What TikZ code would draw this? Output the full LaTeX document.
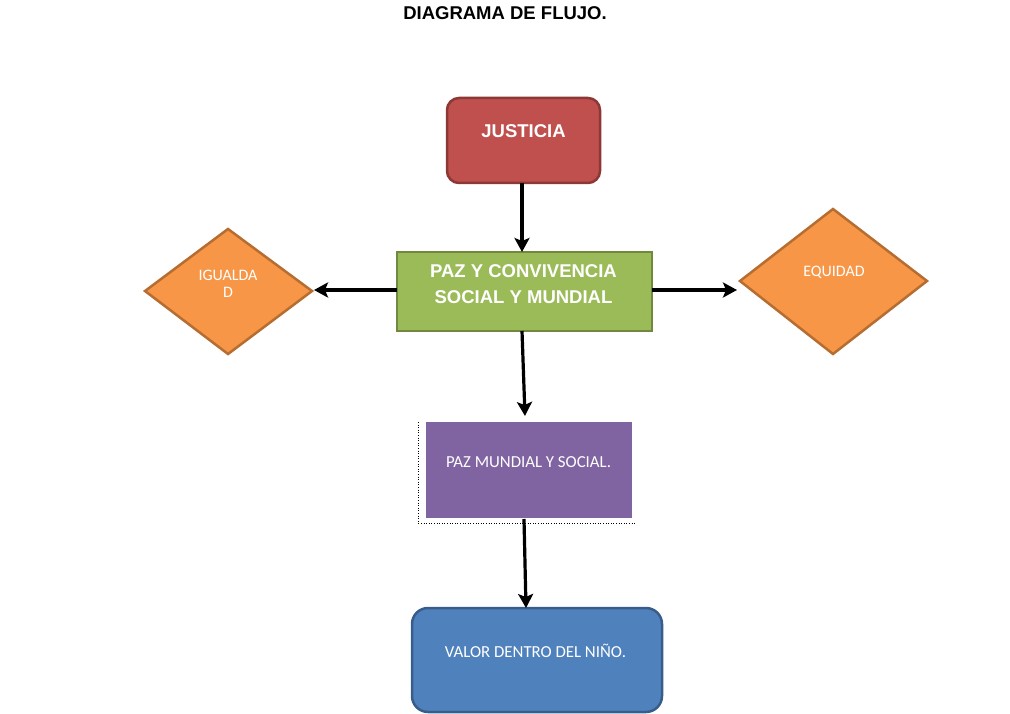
\documentclass[tikz,border=0pt]{standalone}
\usepackage{fontspec}
\setmainfont{Liberation Sans}
\newfontfamily\calib{Carlito}
\usetikzlibrary{shapes.geometric,arrows.meta}
\definecolor{jred}{HTML}{C0504D}
\definecolor{jredb}{HTML}{8C3836}
\definecolor{pgreen}{HTML}{9BBB59}
\definecolor{pgreenb}{HTML}{71893F}
\definecolor{dorange}{HTML}{F79646}
\definecolor{dorangeb}{HTML}{B66D31}
\definecolor{mpurple}{HTML}{8064A2}
\definecolor{vblue}{HTML}{4F81BD}
\definecolor{vblueb}{HTML}{385D8A}
\tikzset{
  lbl/.style={text=white, align=center, font=\bfseries\fontsize{18.5}{26}\selectfont},
  slbl/.style={text=white, align=center, font=\calib\fontsize{16.8}{18}\selectfont},
  dlbl/.style={text=white, align=center, font=\calib\fontsize{16}{17}\selectfont},
  flow/.style={line width=3.2pt, -{Stealth[length=14pt,width=15pt,inset=3pt]}},
}
\begin{document}
\begin{tikzpicture}[x=1pt,y=-1pt]
\useasboundingbox (0,0) rectangle (1010,714);
\node[font=\bfseries\fontsize{18.5}{20}\selectfont] (title) at (505,13) {DIAGRAMA DE FLUJO.};
% JUSTICIA
\draw[fill=jred, draw=jredb, line width=2.5pt, rounded corners=12pt] (447,98) rectangle (600,183);
\node[lbl] (justxt) at (523.5,131) {JUSTICIA};
\coordinate (jusb) at (522,183);
% green
\draw[fill=pgreen, draw=pgreenb, line width=2.5pt] (397,252) rectangle (652,331);
\node[lbl] (paztxt) at (523.5,284) {PAZ Y CONVIVENCIA\\SOCIAL Y MUNDIAL};
\coordinate (pazt) at (522,252);
\coordinate (pazl) at (397,290);
\coordinate (pazr) at (652,290);
\coordinate (pazb) at (522,331);
% diamonds
\draw[fill=dorange, draw=dorangeb, line width=2.5pt] (145,291) -- (228,229) -- (312,291) -- (228,354) -- cycle;
\node[dlbl] (igtxt) at (228,284) {IGUALDA\\D};
\coordinate (igr) at (314,290);
\draw[fill=dorange, draw=dorangeb, line width=2.5pt] (740,281) -- (833,209) -- (927,281) -- (833,354) -- cycle;
\node[dlbl] (eqtxt) at (834,272) {EQUIDAD};
\coordinate (eql) at (737,290);
% purple
\draw[black, dotted, line width=0.6pt] (418,422) -- (418,523) -- (636,523);
\fill[mpurple] (426,422) rectangle (632,518);
\node[slbl] (pmtxt) at (528.5,462) {PAZ MUNDIAL Y SOCIAL.};
\coordinate (pmt) at (525,416);
\coordinate (pmb) at (524,519);
% blue
\draw[fill=vblue, draw=vblueb, line width=2.5pt, rounded corners=16pt] (412,608) rectangle (662,712);
\node[slbl] (vtxt) at (535.5,651) {VALOR DENTRO DEL NIÑO.};
\coordinate (vt) at (526,608);
% arrows
\draw[flow] (jusb) -- (pazt);
\draw[flow] (pazl) -- (igr);
\draw[flow] (pazr) -- (eql);
\draw[flow] (pazb) -- (pmt);
\draw[flow] (pmb) -- (vt);
\end{tikzpicture}
\end{document}
